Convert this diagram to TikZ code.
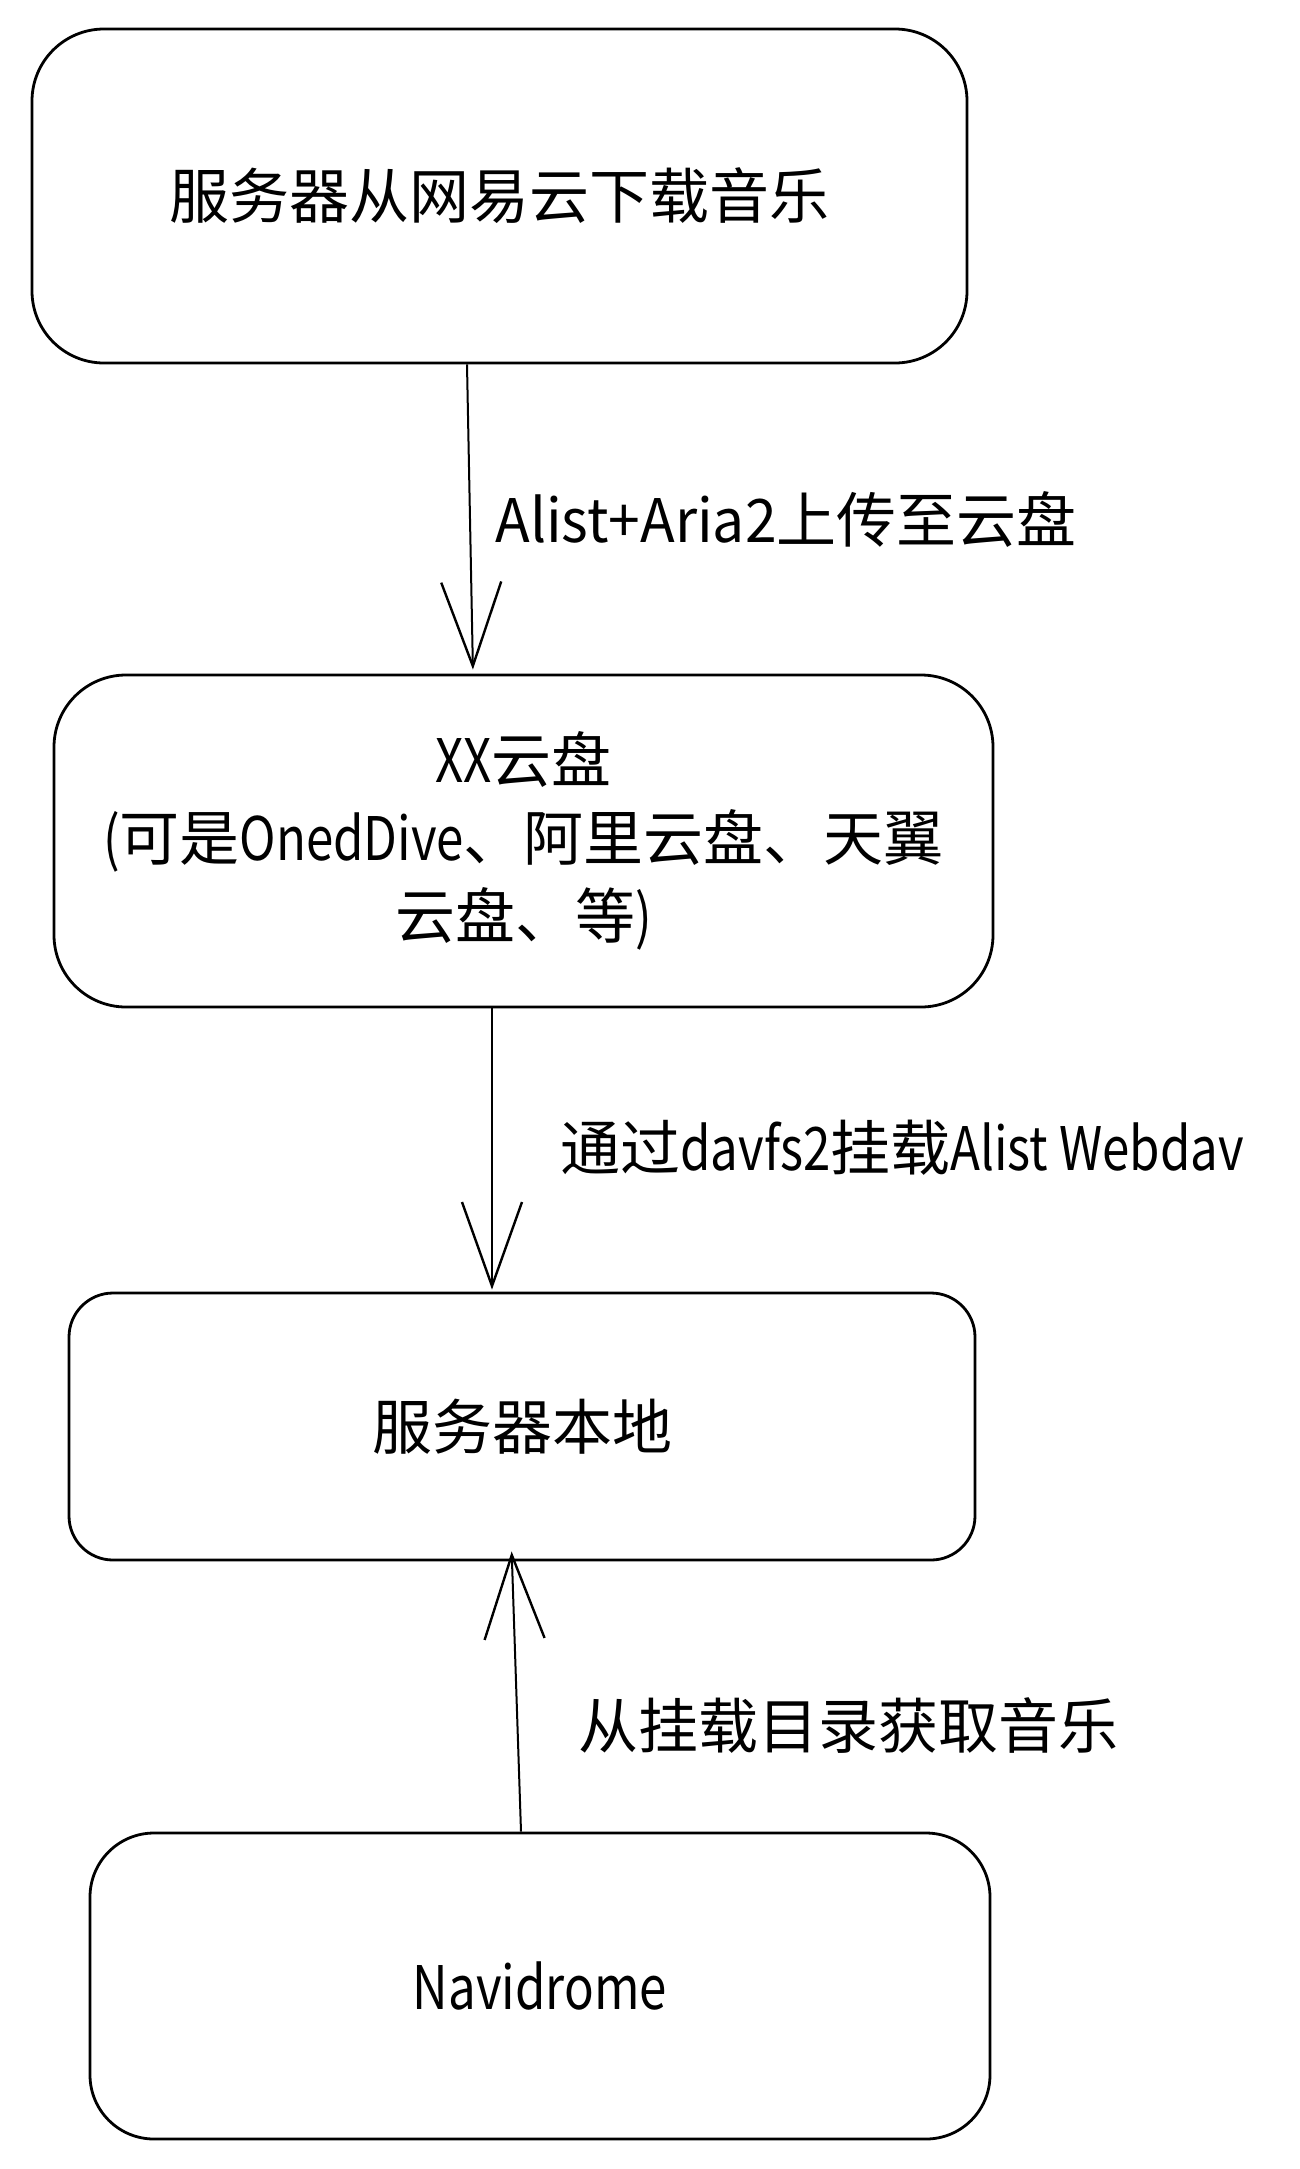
\documentclass[tikz,border=0pt]{standalone}
\usepackage{fontspec}
\setmainfont{Noto Sans CJK SC}
\newfontfamily\lat[FakeStretch=0.82]{Noto Sans CJK SC}
\newfontfamily\latw[FakeStretch=0.95]{Noto Sans CJK SC}
\usetikzlibrary{arrows.meta}
\tikzset{
  box/.style={draw=black, line width=1.4pt, fill=white, align=center,
    font=\fontsize{30pt}{39pt}\selectfont, inner sep=0pt},
  arr/.style={line width=1pt, -{Straight Barb[length=42pt, width=30pt, line width=1.2pt]}},
  lbl/.style={anchor=west, inner sep=0pt, font=\fontsize{30pt}{36pt}\selectfont}
}
\begin{document}
\begin{tikzpicture}[x=0.5pt, y=-0.5pt]
    \useasboundingbox (0, 0) rectangle (1300, 2169);
    \node[box, minimum width=467.5pt, minimum height=167pt, rounded corners=36pt] (server) at (499.5, 196) {服务器从网易云下载音乐};
    \node[box, minimum width=469.5pt, minimum height=166pt, rounded corners=36pt] (cloud) at (523.5, 841) {{\lat XX}云盘\\{\lat (}可是{\lat OnedDive}、阿里云盘、天翼\\云盘、等{\lat )}};
    \node[box, minimum width=453pt, minimum height=133.5pt, rounded corners=22pt] (local) at (522, 1426.5) {服务器本地};
    \node[box, minimum width=450pt, minimum height=153pt, rounded corners=32pt] (navi) at (540, 1986) {\lat Navidrome};
    \draw[arr, shorten >=2pt] ([xshift=-16.25pt]server.south) -- ([xshift=-25.25pt]cloud.north);
    \draw[arr, shorten >=1pt] ([xshift=-15.75pt]cloud.south) -- ([xshift=-15pt]local.north);
    \draw[arr, shorten >=-5pt] ([xshift=-9.5pt]navi.north) -- ([xshift=-5pt]local.south);
    \node[lbl] (upload) at (495, 519) {{\latw Alist+Aria2}上传至云盘};
    \node[lbl] (mount) at (560, 1148) {通过{\lat davfs2}挂载{\lat Alist Webdav}};
    \node[lbl] (fetch) at (578, 1725) {从挂载目录获取音乐};
\end{tikzpicture}
\end{document}
